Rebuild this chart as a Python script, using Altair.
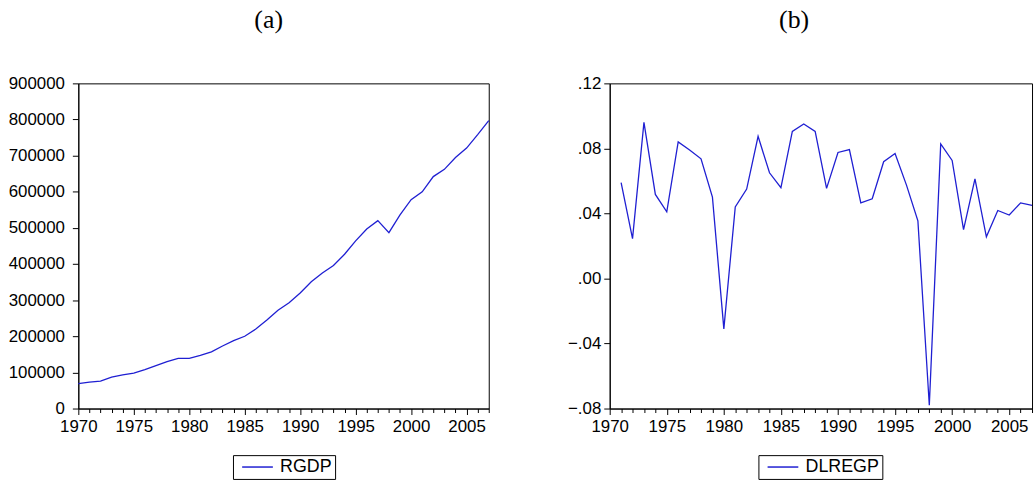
import altair as alt
import pandas as pd

years_a = list(range(1970, 2008))
rgdp = [69000, 73000, 76000, 87000, 93000, 98000, 108000, 119000, 130000, 139000,
        139000, 147000, 157000, 173000, 188000, 200000, 220000, 245000, 272000, 293000,
        320000, 351000, 375000, 396000, 427000, 464000, 497000, 520000, 487000, 536000,
        578000, 600000, 642000, 662000, 695000, 721000, 758000, 797000]

years_b = list(range(1971, 2008))
dlregp = [0.059, 0.0245, 0.096, 0.0517, 0.041, 0.084, 0.079, 0.0736, 0.050, -0.031,
          0.044, 0.055, 0.0874, 0.065, 0.0558, 0.0905, 0.095, 0.0905, 0.0554, 0.0775,
          0.0793, 0.0465, 0.049, 0.0718, 0.0769, 0.0574, 0.0355, -0.078, 0.0828, 0.0726,
          0.030, 0.0613, 0.0256, 0.0418, 0.039, 0.0465, 0.045]

x_ticks = list(range(1970, 2008))
ya_ticks = [0, 100000, 200000, 300000, 400000, 500000, 600000, 700000, 800000, 900000]
yb_ticks = [-0.08, -0.04, 0.0, 0.04, 0.08, 0.12]

LINE = "#1f1fd2"
FONT = "Liberation Sans"

df_a = pd.DataFrame({"year": years_a, "value": rgdp, "series": "RGDP"})
df_b = pd.DataFrame({"year": years_b, "value": dlregp, "series": "DLREGP"})


def x_axis():
    return alt.Axis(
        values=x_ticks,
        labelExpr="datum.value % 5 === 0 ? toString(datum.value) : ''",
        tickSize={"condition": {"test": "datum.value % 5 === 0", "value": 6}, "value": 4},
        labelPadding=4,
        labelFontSize=17,
        labelFont=FONT,
        labelColor="black",
        labelFlush=False,
        labelOverlap=False,
        domainColor="black",
        tickColor="black",
        grid=False,
        title=None,
    )


def legend(x, y):
    return alt.Legend(
        title=None,
        orient="none",
        legendX=x,
        legendY=y,
        strokeColor="black",
        fillColor="white",
        padding=3,
        symbolOffset=12.75,
        symbolType="M-2,0L2,0",
        symbolSize=240,
        symbolStrokeWidth=1.5,
        labelFontSize=18,
        labelFont=FONT,
        labelColor="black",
        labelOffset=13.75,
        labelExpr="datum.label + '  '",
    )


chart_a = alt.Chart(df_a).mark_line(strokeWidth=1.3).encode(
    x=alt.X("year:Q", scale=alt.Scale(domain=[1970, 2007], nice=False, zero=False), axis=x_axis()),
    y=alt.Y("value:Q", scale=alt.Scale(domain=[0, 900000], nice=False),
            axis=alt.Axis(values=ya_ticks, format="d", tickSize=6, labelPadding=8,
                          labelFontSize=17, labelFont=FONT, labelColor="black",
                          domainColor="black", tickColor="black", grid=False, title=None)),
    color=alt.Color("series:N", scale=alt.Scale(domain=["RGDP"], range=[LINE]), legend=legend(156, 375)),
).properties(
    width=414, height=328,
    title=alt.Title("(a)", font="Liberation Serif", fontSize=26, fontWeight="normal",
                    anchor="middle", frame="group", dx=-15, offset=42, color="black"),
)

chart_b = alt.Chart(df_b).mark_line(strokeWidth=1.3).encode(
    x=alt.X("year:Q", scale=alt.Scale(domain=[1970, 2007], nice=False, zero=False), axis=x_axis()),
    y=alt.Y("value:Q", scale=alt.Scale(domain=[-0.08, 0.12], nice=False, zero=False),
            axis=alt.Axis(values=yb_ticks,
                          labelExpr="replace(format(datum.value, '.2f'), '0.', '.')",
                          tickSize=6, labelPadding=3,
                          labelFontSize=17, labelFont=FONT, labelColor="black",
                          domainColor="black", tickColor="black", grid=False, title=None)),
    color=alt.Color("series:N", scale=alt.Scale(domain=["DLREGP"], range=[LINE]), legend=legend(150, 375)),
).properties(
    width=426, height=328,
    title=alt.Title("(b)", font="Liberation Serif", fontSize=26, fontWeight="normal",
                    anchor="middle", frame="group", dx=-27, offset=42, color="black"),
)

chart = alt.hconcat(chart_a, chart_b, spacing=74).resolve_scale(
    color="independent"
).resolve_legend(color="independent").properties(
    padding={"left": 7, "top": 4, "right": 0, "bottom": 0},
    background="white",
).configure_view(stroke="black", strokeWidth=1)

chart.save("out.html", embed_options={"renderer": "svg", "actions": False})
